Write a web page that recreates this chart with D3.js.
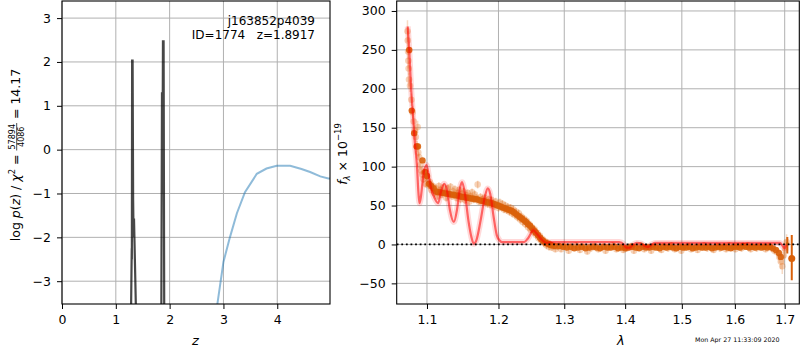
<!DOCTYPE html>
<html>
<head>
<meta charset="utf-8">
<script src="https://cdn.jsdelivr.net/npm/d3@7"></script>
<style>
  body { margin: 0; background: #fff; }
  svg { font-family: "DejaVu Sans", sans-serif; }
</style>
</head>
<body>
<svg id="chart" width="800" height="350"></svg>
<script>
// ---- p(z) panel data ----
const zTicks = [0, 1, 2, 3, 4];
const logpTicks = [-3, -2, -1, 0, 1, 2, 3];
const pzZ   = [0.00, 1.280, 1.296, 1.298, 1.303, 1.312, 1.322, 1.330, 1.338, 1.380, 1.845, 1.858, 1.866, 1.876, 1.888, 1.900, 4.98];
const pzLog = [-9,   -4,    -2.25, -2.5,  2.03,  2.03,  -1.16, -2.0,  -1.57, -4,    -4,    1.31,  -1.0,  2.47,  2.47,  -4,    -9];
const priorZ   = [2.85, 2.887, 3.00, 3.12, 3.25, 3.40, 3.62, 3.80, 3.99, 4.24, 4.45, 4.61, 4.80, 4.95, 5.00];
const priorLog = [-4.2, -3.52, -2.56, -2.0, -1.45, -0.97, -0.55, -0.43, -0.37, -0.37, -0.44, -0.51, -0.61, -0.66, -0.66];

// ---- spectrum panel data ----
const lamTicks = [1.1, 1.2, 1.3, 1.4, 1.5, 1.6, 1.7];
const fluxTicks = [-50, 0, 50, 100, 150, 200, 250, 300];

const modelLam = [1.0745, 1.0765, 1.0790, 1.0810, 1.0835, 1.0868, 1.0885, 1.0900, 1.0920, 1.0950, 1.0994, 1.1030, 1.1061, 1.1100,
  1.1150, 1.1190, 1.1233, 1.1270, 1.1310, 1.1366, 1.1410, 1.1450, 1.1480, 1.1520, 1.1570, 1.1610, 1.1644, 1.1680, 1.1740,
  1.1800, 1.1845, 1.1880, 1.1930, 1.1975, 1.2017, 1.2050, 1.2200, 1.2380, 1.2440, 1.2520, 1.2580, 1.2650, 1.2717, 1.2800,
  1.3900, 1.3980, 1.4020, 1.4080, 1.4140, 1.4200, 1.4280, 1.4340, 1.4400, 1.4460, 1.4520, 1.6900, 1.6960, 1.7000, 1.7030];
const modelFlux = [280, 250, 200, 172, 135, 99, 68, 53, 62, 88, 102, 85, 70, 60,
  53, 68, 78, 70, 45, 29, 45, 72, 80, 65, 30, 10, 1, 5, 30,
  60, 72, 65, 35, 12, 5, 3, 3, 3, 8, 18, 13, 6, 2, 3,
  3, 0, -4, -4, 0, 2, 1, -2, -3, 0, 2, 2, -2, -5, 0];

// binned spectrum (dark points)
const binLam = [1.0765, 1.0798, 1.0830, 1.0862, 1.0880, 1.0940, 1.0975, 1.1000, 1.1027, 1.1060, 1.1090, 1.1120, 1.1150,
  1.1180, 1.1210, 1.1240, 1.1270, 1.1300, 1.1330, 1.1360, 1.1390, 1.1420, 1.1450, 1.1480, 1.1510, 1.1540, 1.1570,
  1.1600, 1.1630, 1.1660, 1.1690, 1.1720, 1.1750, 1.1780, 1.1810, 1.1840, 1.1870, 1.1900, 1.1930, 1.1960, 1.1990,
  1.2020, 1.2050, 1.2080, 1.2110, 1.2140, 1.2170, 1.2200, 1.2230, 1.2260, 1.2290, 1.2320, 1.2350, 1.2380, 1.2410,
  1.2440, 1.2470, 1.2500, 1.2530, 1.2560, 1.2590, 1.2620, 1.2650, 1.2680, 1.2710, 1.2740, 1.2770, 1.2800, 1.2850,
  1.292, 1.298, 1.304, 1.310, 1.316, 1.322, 1.328, 1.334, 1.340, 1.346, 1.352, 1.358, 1.364, 1.370, 1.376, 1.382,
  1.388, 1.394, 1.400, 1.406, 1.412, 1.418, 1.424, 1.430, 1.436, 1.442, 1.448, 1.454, 1.460, 1.466, 1.472, 1.478,
  1.484, 1.490, 1.496, 1.502, 1.508, 1.514, 1.520, 1.526, 1.532, 1.538, 1.544, 1.550, 1.556, 1.562, 1.568, 1.574,
  1.580, 1.586, 1.592, 1.598, 1.604, 1.610, 1.616, 1.622, 1.628, 1.634, 1.640, 1.646, 1.652, 1.658, 1.664, 1.670,
  1.676, 1.682, 1.688, 1.692];
const binFlux = [250, 172, 143, 126, 126, 108, 93, 88, 78, 75, 72, 68, 67,
  67, 66, 66, 65, 65, 64, 64, 63, 63, 62, 61, 61, 60, 60,
  59, 59, 58, 58, 57, 56, 56, 55, 54, 54, 53, 52, 51, 50,
  49, 48, 47, 46, 45, 44, 43, 41, 39, 37, 35, 33, 31, 29,
  26, 24, 21, 18, 15, 12, 9, 6, 4, 2, 1, 0, -1, -2,
  -2, -3, -4, -3, -5, -4, -3, -5, -4, -3, -4, -5, -3, -4, -4, -3,
  -5, -4, -5, -4, -3, -4, -5, -3, -4, -4, -3, -4, -5, -3, -4, -3,
  -4, -5, -3, -4, -4, -3, -5, -4, -3, -4, -4, -3, -5, -4, -3, -4,
  -3, -4, -5, -3, -3, -4, -2, -3, -4, -3, -4, -3, -4, -3, -4, -3,
  -5, -7, -11, -16];

// unbinned spectrum (faint points with errors)
const specLam = [1.0742, 1.0746, 1.0750, 1.0753, 1.0757, 1.0762, 1.0775, 1.0792, 1.0808, 1.0824, 1.0838, 1.0852,
  1.0866, 1.0876, 1.0884, 1.0896, 1.0910, 1.0924, 1.0938, 1.0952, 1.0966, 1.0980, 1.0994,
  1.100, 1.102, 1.104, 1.106, 1.108, 1.110, 1.112, 1.114, 1.116, 1.118, 1.120, 1.122, 1.124, 1.126, 1.128, 1.130,
  1.132, 1.134, 1.136, 1.138, 1.140, 1.142, 1.144, 1.146, 1.148, 1.150, 1.152, 1.154, 1.156, 1.158, 1.160, 1.162,
  1.164, 1.166, 1.168, 1.170, 1.172, 1.174, 1.176, 1.178, 1.180, 1.182, 1.184, 1.186, 1.188, 1.190, 1.192, 1.194,
  1.196, 1.198, 1.200, 1.202, 1.204, 1.206, 1.208, 1.210, 1.212, 1.214, 1.216, 1.218, 1.220, 1.222, 1.224, 1.226,
  1.228, 1.230, 1.232, 1.234, 1.236, 1.238, 1.240, 1.242, 1.244, 1.246, 1.248, 1.250, 1.252, 1.254, 1.256, 1.258,
  1.260, 1.262, 1.264, 1.266, 1.268, 1.270, 1.272, 1.274, 1.276, 1.278, 1.280, 1.283, 1.286, 1.289,
  1.295, 1.301, 1.307, 1.313, 1.319, 1.325, 1.331, 1.337, 1.343, 1.349, 1.355, 1.361, 1.367, 1.373, 1.379, 1.385,
  1.391, 1.397, 1.403, 1.409, 1.415, 1.421, 1.427, 1.433, 1.439, 1.445, 1.451, 1.457, 1.463, 1.469, 1.475, 1.481,
  1.487, 1.493, 1.499, 1.505, 1.511, 1.517, 1.523, 1.529, 1.535, 1.541, 1.547, 1.553, 1.559, 1.565, 1.571, 1.577,
  1.583, 1.589, 1.595, 1.601, 1.607, 1.613, 1.619, 1.625, 1.631, 1.637, 1.643, 1.649, 1.655, 1.661, 1.667, 1.673,
  1.679, 1.685, 1.689, 1.692, 1.695, 1.698, 1.701, 1.704];
const specFlux = [274, 262, 248, 236, 226, 212, 204, 186, 170, 158, 146, 138,
  126, 151, 118, 112, 102, 95, 90, 84, 92, 78, 86,
  88, 76, 80, 70, 75, 66, 72, 62, 75, 70, 64, 73, 67, 60, 72, 66,
  74, 62, 68, 71, 60, 66, 70, 58, 65, 68, 57, 63, 66, 55, 62, 67,
  58, 64, 60, 77, 55, 61, 58, 54, 60, 56, 52, 58, 51, 57, 53, 49,
  55, 51, 47, 54, 48, 52, 45, 50, 44, 48, 42, 47, 40, 45, 38, 42,
  35, 40, 32, 36, 29, 33, 26, 30, 22, 26, 19, 22, 16, 19, 12, 15,
  8, 11, 5, 7, 2, 4, -1, 2, -3, 0, -4, -2, -6, -3,
  -6, -2, -8, -4, -1, -7, -3, -9, -5, -2, -6, -3, -8, -4, -1, -6,
  -3, -7, -5, -2, -8, -4, -1, -6, -3, -8, -4, -2, -7, -3, -5, -1,
  -6, -3, -8, -4, -2, -6, -3, -7, -4, -1, -5, -3, -7, -2, -5, -3,
  -6, -1, -4, -6, -2, -5, -3, -1, -6, -3, -5, -2, -4, -6, -2, -5,
  -8, -10, -16, -22, -28, -14, -6, 3];
const specErr = [14, 12, 10, 10, 9, 9, 8, 8, 8, 8, 7, 7,
  7, 8, 6, 6, 6, 5, 5, 5, 5, 5, 5,
  5, 5, 5, 5, 5, 5, 5, 5, 5, 5, 5, 5, 5, 5, 5, 5,
  5, 5, 5, 5, 5, 5, 5, 5, 5, 5, 5, 5, 5, 5, 5, 5,
  5, 5, 5, 5, 5, 5, 5, 5, 5, 5, 5, 5, 5, 5, 5, 5,
  5, 5, 5, 5, 5, 5, 5, 5, 5, 5, 5, 5, 5, 5, 5, 5,
  5, 5, 5, 5, 5, 5, 5, 5, 5, 5, 5, 5, 5, 5, 5, 5,
  5, 5, 5, 5, 5, 5, 5, 5, 5, 5, 4, 4, 4, 4,
  4, 4, 4, 4, 4, 4, 4, 4, 4, 4, 4, 4, 4, 4, 4, 4,
  4, 4, 4, 4, 4, 4, 4, 4, 4, 4, 4, 4, 4, 4, 4, 4,
  4, 4, 4, 4, 4, 4, 4, 4, 4, 4, 4, 4, 4, 4, 4, 4,
  4, 4, 4, 4, 4, 4, 4, 4, 4, 4, 4, 4, 4, 4, 4, 4,
  5, 6, 8, 10, 10, 12, 12, 10];

// last two binned points with error bars
const endLam  = [1.7054, 1.7147];
const endFlux = [1.3, -18];
const endLo   = [-11.5, -46];
const endHi   = [9.7, 12];

const svg = d3.select('#chart');
const font = '"DejaVu Sans", sans-serif';
const gridColor = '#b0b0b0';

function drawGrid(g, xs, ys, xv, yv, box) {
  g.append('g').selectAll('line').data(xv).enter().append('line')
    .attr('x1', d => xs(d)).attr('x2', d => xs(d))
    .attr('y1', box.y0).attr('y2', box.y1)
    .attr('stroke', gridColor).attr('stroke-width', 1);
  g.append('g').selectAll('line').data(yv).enter().append('line')
    .attr('y1', d => ys(d)).attr('y2', d => ys(d))
    .attr('x1', box.x0).attr('x2', box.x1)
    .attr('stroke', gridColor).attr('stroke-width', 1);
}

function styleAxis(g) {
  g.select('.domain').remove();
  g.selectAll('line').attr('stroke', '#000').attr('stroke-width', 1);
  g.selectAll('text').attr('font-size', '12.5px').attr('font-family', font).attr('fill', '#000');
}

function drawAxes(xs, ys, xv, yv, box, xfmt, yfmt) {
  svg.append('g')
    .attr('transform', `translate(0, ${box.y1})`)
    .call(d3.axisBottom(xs).tickValues(xv).tickSize(5).tickPadding(6).tickFormat(xfmt))
    .call(styleAxis);
  svg.append('g')
    .attr('transform', `translate(${box.x0}, 0)`)
    .call(d3.axisLeft(ys).tickValues(yv).tickSize(5).tickPadding(6).tickFormat(yfmt))
    .call(styleAxis);
  svg.append('rect')
    .attr('x', box.x0).attr('y', box.y0)
    .attr('width', box.x1 - box.x0).attr('height', box.y1 - box.y0)
    .attr('fill', 'none').attr('stroke', '#000').attr('stroke-width', 1.1);
}

// rotated label built from pieces, centred on (cx, cy), baseline at x = cx
function richLabel(cx, cy, pieces) {
  const outer = svg.append('g').attr('transform', `translate(${cx}, ${cy}) rotate(-90)`);
  const g = outer.append('g');
  let cursor = 0;
  pieces.forEach(p => {
    const size = p.s || 12.5;
    if (p.frac) {
      const num = g.append('text').attr('y', p.numY).attr('font-size', size + 'px').text(p.frac[0]);
      const den = g.append('text').attr('y', p.denY).attr('font-size', size + 'px').text(p.frac[1]);
      const wn = num.node().getComputedTextLength();
      const wd = den.node().getComputedTextLength();
      const w = Math.max(wn, wd) + 2;
      num.attr('x', cursor + (w - wn) / 2);
      den.attr('x', cursor + (w - wd) / 2);
      g.append('line').attr('x1', cursor).attr('x2', cursor + w)
        .attr('y1', p.barY).attr('y2', p.barY).attr('stroke', '#000').attr('stroke-width', 0.7);
      cursor += w;
    } else {
      const t = g.append('text').attr('x', cursor).attr('y', p.dy || 0)
        .attr('font-size', size + 'px')
        .attr('font-style', p.i ? 'italic' : 'normal')
        .style('white-space', 'pre')
        .text(p.t);
      cursor += t.node().getComputedTextLength();
    }
  });
  g.attr('transform', `translate(${-cursor / 2}, 0)`);
}

// ================= left panel: p(z) =================
const L = { x0: 62, x1: 330, y0: 1, y1: 304 };
const zScale = d3.scaleLinear().domain([0, 4.98]).range([L.x0, L.x1]);
const pScale = d3.scaleLinear().domain([-3.52, 3.39]).range([L.y1, L.y0]);

svg.append('clipPath').attr('id', 'clipL').append('rect')
  .attr('x', L.x0).attr('y', L.y0).attr('width', L.x1 - L.x0).attr('height', L.y1 - L.y0);

drawGrid(svg.append('g'), zScale, pScale, zTicks, logpTicks, L);

const pzLine = d3.line().x(d => zScale(d[0])).y(d => pScale(d[1]));
const lp = svg.append('g').attr('clip-path', 'url(#clipL)');
lp.append('path')
  .datum(priorZ.map((z, i) => [z, priorLog[i]]))
  .attr('d', pzLine)
  .attr('fill', 'none').attr('stroke', '#1f77b4').attr('stroke-opacity', 0.5).attr('stroke-width', 2);
lp.append('path')
  .datum(pzZ.map((z, i) => [z, pzLog[i]]))
  .attr('d', pzLine)
  .attr('fill', 'none').attr('stroke', '#000').attr('stroke-opacity', 0.72).attr('stroke-width', 2.2);

drawAxes(zScale, pScale, zTicks, logpTicks, L, d3.format('d'), d3.format('d'));

svg.append('text').attr('x', 315).attr('y', 25).attr('text-anchor', 'end')
  .attr('font-size', '12px').text('j163852p4039');
svg.append('text').attr('x', 315).attr('y', 39).attr('text-anchor', 'end')
  .attr('font-size', '12px').style('white-space', 'pre').text('ID=1774   z=1.8917');

svg.append('text').attr('x', zScale(2.48)).attr('y', 345).attr('text-anchor', 'middle')
  .attr('font-size', '13px').attr('font-style', 'italic').text('z');

richLabel(20, 155, [
  { t: 'log ' }, { t: 'p', i: 1 }, { t: '(' }, { t: 'z', i: 1 }, { t: ') / ' }, { t: 'χ', i: 1 },
  { t: '2', s: 8.5, dy: -5.5 }, { t: ' = ' },
  { frac: ['57894', '4086'], s: 8, numY: -5, denY: 4, barY: -3.3 },
  { t: ' = 14.17' }
]);

// ================= right panel: spectrum =================
const R = { x0: 396.7, x1: 799.3, y0: 1, y1: 304 };
const lamScale = d3.scaleLog().domain([1.0602, 1.7305]).range([R.x0, R.x1]);
const fScale = d3.scaleLinear().domain([-76.5, 312.8]).range([R.y1, R.y0]);

svg.append('clipPath').attr('id', 'clipR').append('rect')
  .attr('x', R.x0).attr('y', R.y0).attr('width', R.x1 - R.x0).attr('height', R.y1 - R.y0);

drawGrid(svg.append('g'), lamScale, fScale, lamTicks, fluxTicks, R);

const rp = svg.append('g').attr('clip-path', 'url(#clipR)');
const orange = '#e06a14';

// faint unbinned points
const spec = specLam.map((l, i) => ({ l: l, f: specFlux[i], e: specErr[i] }));
rp.append('g').selectAll('line').data(spec).enter().append('line')
  .attr('x1', d => lamScale(d.l)).attr('x2', d => lamScale(d.l))
  .attr('y1', d => fScale(d.f - d.e)).attr('y2', d => fScale(d.f + d.e))
  .attr('stroke', orange).attr('stroke-opacity', 0.25).attr('stroke-width', 1.5);
rp.append('g').selectAll('circle').data(spec).enter().append('circle')
  .attr('cx', d => lamScale(d.l)).attr('cy', d => fScale(d.f)).attr('r', 3.3)
  .attr('fill', orange).attr('fill-opacity', 0.3);

// binned points
const bins = binLam.map((l, i) => ({ l: l, f: binFlux[i] }));
rp.append('g').selectAll('circle').data(bins).enter().append('circle')
  .attr('cx', d => lamScale(d.l)).attr('cy', d => fScale(d.f)).attr('r', 3.2)
  .attr('fill', '#d9600a').attr('fill-opacity', 0.9);

const ends = endLam.map((l, i) => ({ l: l, f: endFlux[i], lo: endLo[i], hi: endHi[i] }));
rp.append('g').selectAll('line').data(ends).enter().append('line')
  .attr('x1', d => lamScale(d.l)).attr('x2', d => lamScale(d.l))
  .attr('y1', d => fScale(d.lo)).attr('y2', d => fScale(d.hi))
  .attr('stroke', '#d9600a').attr('stroke-width', 2);
rp.append('g').selectAll('circle').data(ends).enter().append('circle')
  .attr('cx', d => lamScale(d.l)).attr('cy', d => fScale(d.f)).attr('r', (d, i) => i ? 3.5 : 1.5)
  .attr('fill', '#d9600a');

// model
const modelLine = d3.line().curve(d3.curveMonotoneX)
  .x(d => lamScale(d[0])).y(d => fScale(d[1]));
const modelData = modelLam.map((l, i) => [l, modelFlux[i]]);
rp.append('path').datum(modelData).attr('d', modelLine)
  .attr('fill', 'none').attr('stroke', '#ff0000').attr('stroke-opacity', 0.15).attr('stroke-width', 6);
rp.append('path').datum(modelData).attr('d', modelLine)
  .attr('fill', 'none').attr('stroke', '#ff0000').attr('stroke-opacity', 0.55).attr('stroke-width', 2.2);

// zero line
rp.append('line')
  .attr('x1', R.x0).attr('x2', R.x1)
  .attr('y1', fScale(0)).attr('y2', fScale(0))
  .attr('stroke', '#000').attr('stroke-width', 1.8).attr('stroke-dasharray', '1.8,2.8');

drawAxes(lamScale, fScale, lamTicks, fluxTicks, R, d3.format('.1f'), d3.format('d'));

svg.append('text').attr('x', lamScale(1.3926)).attr('y', 345).attr('text-anchor', 'middle')
  .attr('font-size', '13px').attr('font-style', 'italic').text('λ');

richLabel(346.5, 154, [
  { t: 'f', i: 1 }, { t: 'λ', s: 8.5, dy: 3, i: 1 }, { t: ' × 10' }, { t: '−19', s: 8.5, dy: -5.5 }
]);

svg.append('text').attr('x', 695).attr('y', 342)
  .attr('font-size', '6.3px').text('Mon Apr 27 11:33:09 2020');
</script>
</body>
</html>
